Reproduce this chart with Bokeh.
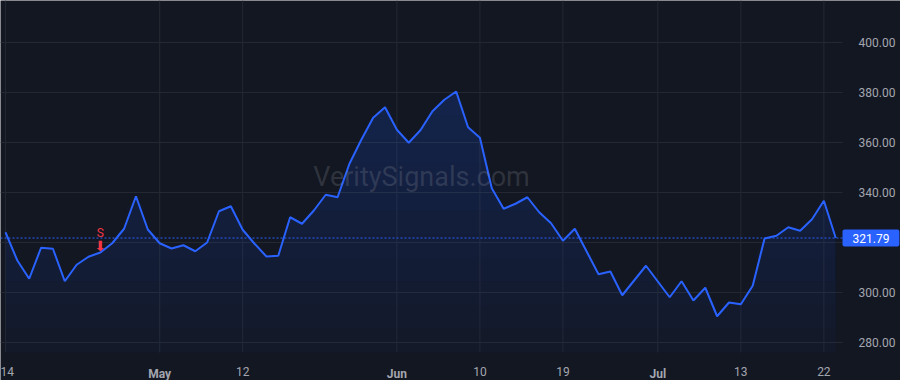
import numpy as np
from bokeh.plotting import figure
from bokeh.models import (Range1d, FixedTicker, NumeralTickFormatter, Label,
                          ColumnDataSource, LinearAxis)
from bokeh.core.properties import value
from bokeh.embed import file_html
from bokeh.resources import INLINE

# ---- data ----
prices = [324.1, 312.8, 305.5, 317.9, 317.5, 304.5, 311.1, 314.3, 316.0, 319.7,
          325.5, 338.5, 325.2, 319.7, 317.6, 318.9, 316.5, 320.0, 332.5, 334.5,
          325.1, 319.5, 314.4, 314.7, 330.1, 327.5, 332.8, 339.1, 338.1, 351.5,
          361.1, 369.9, 374.1, 365.1, 359.9, 365.0, 372.5, 377.1, 380.4, 366.1,
          361.9, 341.7, 333.5, 335.5, 338.1, 332.1, 327.7, 320.7, 325.5, 316.4,
          307.3, 308.4, 298.9, 304.8, 310.7, 304.4, 298.1, 304.5, 296.8, 301.9,
          290.5, 296.0, 295.3, 302.7, 321.6, 322.7, 326.1, 324.7, 329.3, 336.7,
          321.79]
last_price = 321.79
day_tick_idx = [0, 20, 40, 47, 62, 69]
day_tick_labels = ["14", "12", "10", "19", "13", "22"]
month_tick_idx = [13, 33, 55]
month_tick_labels = ["May", "Jun", "Jul"]
price_ticks = [280, 300, 320, 340, 360, 380, 400]
signal_idx = [8]
signal_text = ["S"]
watermark = "VeritySignals.com"

BG = "#131722"
GRID = "#242832"
BLUE = "#2962FF"
RED = "#F23645"
TXT = "#a3a6af"
FONT = "Roboto"

x = np.arange(len(prices))
y = np.array(prices)

W, H = 900, 380
PANE_W, PANE_H = 842, 352     # plotting pane; price scale and time scale around it
x0 = -0.42                    # left edge of the pane
x_axis_pos = len(prices) - 0.43   # right edge of the pane (price scale)
x_end = x0 + (x_axis_pos - x0) * W / PANE_W
y0, y1 = 276.0, 416.8         # bottom / top of the pane
y_start = y1 - (y1 - y0) * H / PANE_H

p = figure(width=W, height=H, output_backend="svg", toolbar_location=None,
           x_range=Range1d(x0, x_end), y_range=Range1d(y_start, y1),
           y_axis_location="right", min_border=0)
p.background_fill_color = BG
p.border_fill_color = BG
p.outline_line_color = None

# grids limited to the pane
p.ygrid.visible = False
p.xgrid.visible = False
p.segment(x0=[x0] * len(price_ticks), x1=[x_axis_pos] * len(price_ticks),
          y0=price_ticks, y1=price_ticks, line_color=GRID, line_width=1)
vt = sorted(day_tick_idx + month_tick_idx)
p.segment(x0=vt, x1=vt, y0=[y0] * len(vt), y1=[y1] * len(vt),
          line_color=GRID, line_width=1)

# gradient-like area fill
levels = np.linspace(y0, y.max(), 12)
p.varea(x=x, y1=y0, y2=y, fill_color=BLUE, fill_alpha=0.035)
for L in levels[1:]:
    p.varea(x=x, y1=np.full_like(y, L), y2=np.maximum(y, L),
            fill_color=BLUE, fill_alpha=0.018)

p.line(x, y, line_color=BLUE, line_width=2)

# last price dotted line
p.segment(x0=[x0], x1=[x_axis_pos], y0=[last_price], y1=[last_price],
          line_color=BLUE, line_width=1, line_dash="2 2")

# axes
xa = p.xaxis[0]
xa.ticker = FixedTicker(ticks=day_tick_idx)
xa.major_label_overrides = {i: l for i, l in zip(day_tick_idx, day_tick_labels)}
xa.fixed_location = y0
xm = LinearAxis(ticker=FixedTicker(ticks=month_tick_idx), fixed_location=y0,
                major_label_overrides={i: l for i, l in zip(month_tick_idx, month_tick_labels)})
p.add_layout(xm, "below")
xm.major_label_text_font_style = "bold"

# price-scale labels hidden where the last-price tag sits
axis_ticks = [t for t in price_ticks if abs(t - last_price) > 5]
ya = p.yaxis[0]
ya.ticker = FixedTicker(ticks=axis_ticks)
ya.formatter = NumeralTickFormatter(format="0.00")
ya.fixed_location = x_axis_pos
for ax in (xa, xm, ya):
    ax.axis_line_color = None
    ax.major_tick_line_color = None
    ax.minor_tick_line_color = None
    ax.major_label_text_color = TXT
    ax.major_label_text_font = FONT
    ax.major_label_text_font_size = "12px"
xa.major_label_standoff = 8
xm.major_label_standoff = 8
ya.major_label_standoff = 10

# watermark
p.add_layout(Label(x=(x0 + x_axis_pos) / 2, y=(y0 + y1) / 2, text=watermark,
                   text_align="center", text_baseline="middle",
                   text_color="#9598a1", text_alpha=0.22, text_font=FONT,
                   text_font_size="27px"))

# signal marker
src = ColumnDataSource(dict(x=[int(i) for i in signal_idx],
                            y=[prices[i] for i in signal_idx],
                            t=signal_text, a=["\u2b07"] * len(signal_idx)))
p.text(x="x", y="y", text="t", source=src, y_offset=-20, text_align="center",
       text_baseline="middle", text_color=RED, text_font=value(FONT),
       text_font_size="12px")
p.text(x="x", y="y", text="a", source=src, y_offset=-7, text_align="center",
       text_baseline="middle", text_color=RED, text_font=value("DejaVu Sans"),
       text_font_size="14px")

# last price tag
p.add_layout(Label(x=x_axis_pos, y=last_price, text=f"{last_price:.2f}",
                   text_align="left", text_baseline="middle", text_color="white",
                   text_font=FONT, text_font_size="12px",
                   background_fill_color=BLUE,
                   padding=dict(left=10, right=10, top=4, bottom=4),
                   border_radius=2))

open("out.html", "w").write(file_html(p, INLINE))
